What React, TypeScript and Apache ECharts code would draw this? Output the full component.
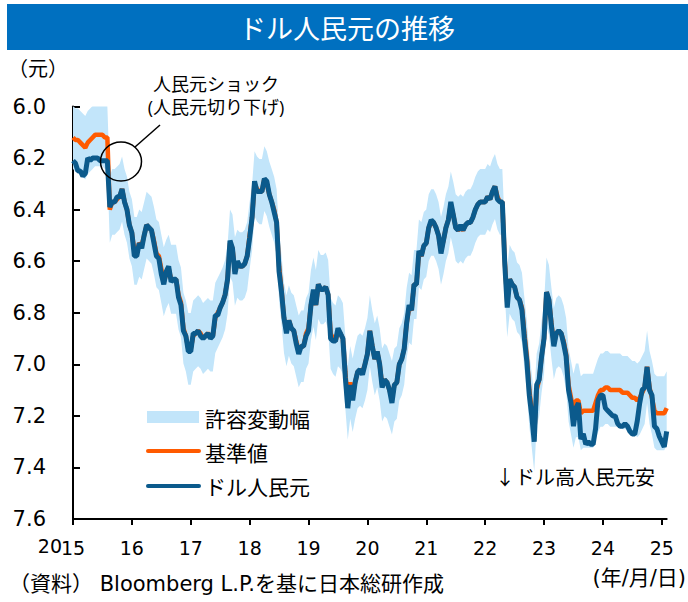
import React, { useEffect, useRef } from "react";
import * as echarts from "echarts";

// Semi-monthly observations (1st and 16th of each month), starting Jan 2015
const START_YEAR = 2015;
const STEPS_PER_YEAR = 24;

// USD/CNY spot (ドル人民元)
const usdCny = [
  6.21, 6.22, 6.25, 6.25, 6.27, 6.26, 6.20, 6.21, 6.20, 6.20, 6.20, 6.21, 6.21, 6.21, 6.21, 6.39, 6.37, 6.37, 6.35, 6.35, 6.32, 6.37, 6.40, 6.46,
  6.49, 6.58, 6.58, 6.53, 6.55, 6.50, 6.46, 6.47, 6.48, 6.53, 6.58, 6.59, 6.65, 6.69, 6.64, 6.62, 6.68, 6.67, 6.67, 6.74, 6.77, 6.87, 6.89, 6.95,
  6.95, 6.88, 6.88, 6.87, 6.89, 6.90, 6.89, 6.88, 6.90, 6.89, 6.81, 6.81, 6.78, 6.76, 6.73, 6.67, 6.52, 6.55, 6.65, 6.60, 6.62, 6.62, 6.61, 6.58,
  6.51, 6.43, 6.29, 6.33, 6.33, 6.33, 6.28, 6.29, 6.34, 6.37, 6.41, 6.45, 6.64, 6.72, 6.82, 6.88, 6.83, 6.86, 6.87, 6.92, 6.96, 6.93, 6.93, 6.89,
  6.87, 6.77, 6.71, 6.77, 6.69, 6.71, 6.71, 6.70, 6.73, 6.90, 6.91, 6.91, 6.86, 6.88, 6.90, 7.05, 7.17, 7.08, 7.14, 7.07, 7.03, 7.02, 7.04, 7.00,
  6.96, 6.87, 6.93, 6.98, 6.95, 7.00, 7.09, 7.06, 7.07, 7.10, 7.15, 7.08, 7.07, 7.00, 6.98, 6.94, 6.84, 6.77, 6.79, 6.69, 6.69, 6.56, 6.58, 6.54,
  6.53, 6.47, 6.44, 6.45, 6.47, 6.50, 6.57, 6.52, 6.47, 6.44, 6.37, 6.42, 6.47, 6.48, 6.46, 6.48, 6.46, 6.45, 6.45, 6.43, 6.40, 6.38, 6.37, 6.37,
  6.37, 6.35, 6.36, 6.33, 6.31, 6.36, 6.37, 6.37, 6.61, 6.78, 6.67, 6.69, 6.70, 6.74, 6.75, 6.79, 6.90, 6.99, 7.12, 7.20, 7.30, 7.08, 7.06, 6.97,
  6.90, 6.72, 6.75, 6.85, 6.93, 6.88, 6.87, 6.88, 6.92, 6.97, 7.10, 7.15, 7.24, 7.17, 7.15, 7.29, 7.27, 7.31, 7.30, 7.31, 7.31, 7.25, 7.14, 7.12,
  7.12, 7.17, 7.18, 7.19, 7.20, 7.20, 7.23, 7.24, 7.24, 7.23, 7.24, 7.26, 7.27, 7.27, 7.22, 7.15, 7.10, 7.09, 7.01, 7.10, 7.12, 7.24, 7.25, 7.28,
  7.30, 7.32, 7.26,
];

// PBoC central parity (基準値)
const centralParity = [
  6.12, 6.13, 6.13, 6.14, 6.15, 6.16, 6.14, 6.13, 6.12, 6.11, 6.11, 6.11, 6.11, 6.12, 6.12, 6.40, 6.37, 6.37, 6.36, 6.35, 6.32, 6.37, 6.40, 6.46,
  6.49, 6.56, 6.56, 6.53, 6.54, 6.50, 6.46, 6.47, 6.48, 6.52, 6.57, 6.58, 6.63, 6.68, 6.65, 6.63, 6.67, 6.67, 6.67, 6.73, 6.76, 6.86, 6.89, 6.94,
  6.94, 6.89, 6.88, 6.87, 6.88, 6.90, 6.89, 6.88, 6.89, 6.89, 6.82, 6.80, 6.78, 6.76, 6.73, 6.67, 6.53, 6.55, 6.64, 6.61, 6.62, 6.62, 6.61, 6.58,
  6.50, 6.43, 6.30, 6.32, 6.33, 6.33, 6.28, 6.30, 6.34, 6.37, 6.40, 6.45, 6.62, 6.71, 6.82, 6.87, 6.83, 6.86, 6.87, 6.91, 6.95, 6.93, 6.93, 6.88,
  6.86, 6.77, 6.72, 6.77, 6.69, 6.71, 6.71, 6.70, 6.73, 6.88, 6.90, 6.91, 6.87, 6.88, 6.90, 7.03, 7.15, 7.07, 7.12, 7.07, 7.03, 7.02, 7.03, 7.00,
  6.96, 6.87, 6.93, 6.98, 6.95, 7.00, 7.08, 7.06, 7.07, 7.10, 7.13, 7.08, 7.07, 7.00, 6.98, 6.94, 6.84, 6.78, 6.79, 6.69, 6.69, 6.57, 6.58, 6.54,
  6.53, 6.47, 6.45, 6.45, 6.47, 6.50, 6.56, 6.52, 6.47, 6.44, 6.38, 6.42, 6.47, 6.48, 6.47, 6.48, 6.46, 6.45, 6.45, 6.43, 6.40, 6.38, 6.37, 6.37,
  6.37, 6.35, 6.36, 6.33, 6.31, 6.35, 6.37, 6.37, 6.60, 6.76, 6.67, 6.69, 6.70, 6.74, 6.75, 6.78, 6.88, 6.97, 7.10, 7.18, 7.27, 7.10, 7.06, 6.97,
  6.90, 6.72, 6.75, 6.84, 6.92, 6.88, 6.87, 6.88, 6.91, 6.96, 7.08, 7.13, 7.18, 7.14, 7.14, 7.19, 7.18, 7.18, 7.18, 7.18, 7.18, 7.15, 7.12, 7.10,
  7.10, 7.09, 7.09, 7.10, 7.10, 7.10, 7.10, 7.10, 7.11, 7.11, 7.11, 7.12, 7.13, 7.13, 7.14, 7.13, 7.11, 7.09, 7.01, 7.09, 7.13, 7.18, 7.19, 7.19,
  7.19, 7.19, 7.17,
];

// Permitted trading band (許容変動幅): ±2% around the central parity
const BAND_RATE = 0.02;

const xTickYears = [2015, 2016, 2017, 2018, 2019, 2020, 2021, 2022, 2023, 2024, 2025];
const xTickLabels = ["15", "16", "17", "18", "19", "20", "21", "22", "23", "24", "25"];
const X_MAX = 2025.0833;
const Y_MIN = 6.0;
const Y_MAX = 7.6;
const Y_STEP = 0.2;

const C_BAND = "#C2E5FA";
const C_FIX = "#FF5A00";
const C_SPOT = "#0B5A8C";
const C_TITLE = "#0070C0";
const JPWIDE = '"DejaVu Sans", "Noto Sans CJK JP", sans-serif';
const JP = '"Open Sans", "Noto Sans CJK JP", sans-serif';
const JPONLY = '"Noto Sans CJK JP", sans-serif';
const NUM = '"DejaVu Sans", sans-serif';

export default function App() {
  const ref = useRef<HTMLDivElement>(null);

  useEffect(() => {
    if (!ref.current) return;
    const chart = echarts.init(ref.current, undefined, { renderer: "svg" });
    const t = (i: number) => START_YEAR + i / STEPS_PER_YEAR;
    const spotData = usdCny.map((v, i) => [t(i), v]);
    const fixData = centralParity.map((v, i) => [t(i), v]);
    const bandLow = centralParity.map((v) => v * (1 - BAND_RATE));
    const bandHigh = centralParity.map((v) => v * (1 + BAND_RATE));
    const bandData = centralParity.map((v, i) => [t(i), bandLow[i], bandHigh[i]]);

    const option: any = {
      animation: false,
      grid: { left: 73, right: 21.3, top: 106.5, bottom: 83, containLabel: false },
      xAxis: {
        type: "value",
        min: START_YEAR,
        max: X_MAX,
        interval: 1,
        axisLine: { show: true, onZero: false, lineStyle: { color: "#000", width: 2 } },
        axisTick: { show: true, inside: false, length: 6, customValues: xTickYears, lineStyle: { color: "#000", width: 2 } },
        axisLabel: {
          customValues: xTickYears,
          formatter: (v: number) => {
            const idx = xTickYears.indexOf(Math.round(v));
            return idx >= 0 ? xTickLabels[idx] : "";
          },
          color: "#000",
          fontSize: 19,
          fontFamily: NUM,
          margin: 19,
        },
        splitLine: { show: false },
      },
      yAxis: {
        type: "value",
        inverse: true,
        min: Y_MIN,
        max: Y_MAX,
        interval: Y_STEP,
        axisLine: { show: true, onZero: false, lineStyle: { color: "#000", width: 2 } },
        axisTick: { show: true, inside: true, length: 7, lineStyle: { color: "#000", width: 2 } },
        axisLabel: {
          formatter: (v: number) => v.toFixed(1),
          color: "#000",
          fontSize: 21,
          fontFamily: NUM,
          margin: 27,
        },
        splitLine: { show: false },
      },
      series: [
        {
          name: "許容変動幅",
          type: "custom",
          data: bandData,
          encode: { x: 0, y: [1, 2] },
          clip: true,
          silent: true,
          z: 1,
          renderItem: (params: any, api: any) => {
            if (params.dataIndex !== 0) return null;
            const pts: number[][] = [];
            for (let i = 0; i < bandData.length; i++) pts.push(api.coord([bandData[i][0], bandData[i][1]]));
            for (let i = bandData.length - 1; i >= 0; i--) pts.push(api.coord([bandData[i][0], bandData[i][2]]));
            return { type: "polygon", shape: { points: pts }, style: { fill: C_BAND, stroke: "none" } };
          },
        },
        {
          name: "基準値",
          type: "line",
          data: fixData,
          symbol: "none",
          lineStyle: { color: C_FIX, width: 4.5 },
          z: 2,
        },
        {
          name: "ドル人民元",
          type: "line",
          data: spotData,
          symbol: "none",
          lineStyle: { color: C_SPOT, width: 5 },
          z: 3,
        },
      ],
      graphic: [
        { type: "rect", shape: { x: 7, y: 4, width: 681, height: 46 }, style: { fill: C_TITLE } },
        {
          type: "text", x: 347, y: 27,
          style: { text: "ドル人民元の推移", fill: "#fff", fontSize: 27, fontFamily: JPONLY, align: "center", verticalAlign: "middle" },
        },
        {
          type: "text", x: 8, y: 67,
          style: { text: "（元）", fill: "#000", fontSize: 20, fontFamily: JPONLY, align: "left", verticalAlign: "middle" },
        },
        {
          type: "text", x: 216, y: 84,
          style: { text: "人民元ショック", fill: "#000", fontSize: 18, fontFamily: JP, align: "center", verticalAlign: "middle" },
        },
        {
          type: "text", x: 216, y: 107,
          style: { text: "(人民元切り下げ)", fill: "#000", fontSize: 18, fontFamily: JP, align: "center", verticalAlign: "middle" },
        },
        {
          type: "ellipse", shape: { cx: 121, cy: 161.5, rx: 20.5, ry: 19.5 },
          style: { fill: "none", stroke: "#000", lineWidth: 1.5 }, z: 10,
        },
        {
          type: "line", shape: { x1: 135, y1: 147, x2: 160, y2: 125 },
          style: { stroke: "#000", lineWidth: 1.5 }, z: 10,
        },
        { type: "rect", shape: { x: 147, y: 411, width: 52, height: 12 }, style: { fill: C_BAND }, z: 10 },
        {
          type: "text", x: 205, y: 418, z: 10,
          style: { text: "許容変動幅", fill: "#000", fontSize: 21, fontFamily: JPONLY, align: "left", verticalAlign: "middle" },
        },
        {
          type: "line", shape: { x1: 148, y1: 451, x2: 199, y2: 451 }, z: 10,
          style: { stroke: C_FIX, lineWidth: 4, lineCap: "round" },
        },
        {
          type: "text", x: 205, y: 452, z: 10,
          style: { text: "基準値", fill: "#000", fontSize: 21, fontFamily: JPONLY, align: "left", verticalAlign: "middle" },
        },
        {
          type: "line", shape: { x1: 148, y1: 486, x2: 199, y2: 486 }, z: 10,
          style: { stroke: C_SPOT, lineWidth: 4, lineCap: "round" },
        },
        {
          type: "text", x: 205, y: 486, z: 10,
          style: { text: "ドル人民元", fill: "#000", fontSize: 21, fontFamily: JPONLY, align: "left", verticalAlign: "middle" },
        },
        {
          type: "text", x: 495, y: 476, z: 10,
          style: { text: "↓ドル高人民元安", fill: "#000", fontSize: 20, fontFamily: JPONLY, align: "left", verticalAlign: "middle" },
        },
        {
          type: "text", x: 62, y: 546,
          style: { text: "20", fill: "#000", fontSize: 19, fontFamily: NUM, align: "right", verticalAlign: "middle" },
        },
        {
          type: "text", x: 9, y: 584,
          style: { text: "（資料） Bloomberg L.P.を基に日本総研作成", fill: "#000", fontSize: 21, fontFamily: JPWIDE, align: "left", verticalAlign: "middle" },
        },
        {
          type: "text", x: 686, y: 578,
          style: { text: "(年/月/日)", fill: "#000", fontSize: 21, fontFamily: JPWIDE, align: "right", verticalAlign: "middle" },
        },
      ],
    };
    chart.setOption(option);
    return () => chart.dispose();
  }, []);

  return (
    <div
      ref={ref}
      style={{ position: "absolute", left: 0, top: 0, width: 688, height: 602, background: "#fff" }}
    />
  );
}
